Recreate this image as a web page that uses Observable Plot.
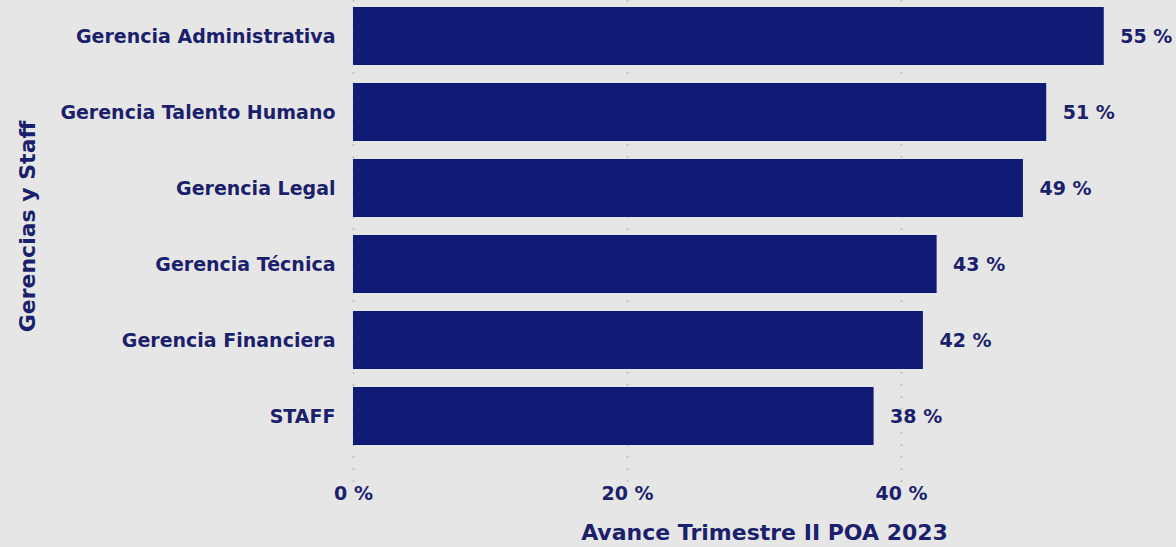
<!DOCTYPE html>
<html>
<head>
<meta charset="utf-8">
<script src="https://cdn.jsdelivr.net/npm/d3@7"></script>
<script src="https://cdn.jsdelivr.net/npm/@observablehq/plot@0.6"></script>
<style>
  html, body { margin: 0; padding: 0; background: #e6e6e6; }
  #chart svg { display: block; }
</style>
</head>
<body>
<div id="chart"></div>
<script>
const categories = ["Gerencia Administrativa", "Gerencia Talento Humano", "Gerencia Legal", "Gerencia Técnica", "Gerencia Financiera", "STAFF"];
const values = [54.8, 50.6, 48.9, 42.6, 41.6, 38.0];
const xTicks = [0, 20, 40];
const xTitle = "Avance Trimestre II POA 2023";
const yTitle = "Gerencias y Staff";

const data = categories.map((c, i) => ({ cat: c, val: values[i] }));
const navy = "#111a74";
const textColor = "#1c1f6b";
const font = "'DejaVu Sans', sans-serif";

const chart = Plot.plot({
  width: 1176,
  height: 547,
  marginLeft: 353,
  marginRight: 1,
  marginTop: 7,
  marginBottom: 102,
  style: { background: "#e6e6e6", fontFamily: font, fontWeight: "bold", fontSize: "19px", color: textColor },
  x: { domain: [0, 60] },
  y: { domain: categories, paddingInner: 0.24, paddingOuter: 0 },
  marks: [
    Plot.ruleX(xTicks, { stroke: "#c4c4c4", strokeWidth: 2, strokeDasharray: "2,10", insetTop: -7, insetBottom: -38 }),
    Plot.barX(data, { x: "val", y: "cat", fill: navy }),
    Plot.text(data, { x: "val", y: "cat", text: d => Math.round(d.val) + " %", textAnchor: "start", dx: 16, fill: textColor, fontSize: 19 }),
    Plot.axisY({ tickSize: 0, tickPadding: 18, label: null, fill: textColor, fontSize: 19 }),
    Plot.axisX({ ticks: xTicks, tickSize: 0, tickPadding: 41, tickFormat: d => d + " %", label: null, fill: textColor, fontSize: 19 }),
    Plot.text([xTitle], { frameAnchor: "bottom", dy: 87, textAnchor: "middle", lineAnchor: "middle", fill: textColor, fontSize: 22 }),
    Plot.text([yTitle], { frameAnchor: "left", rotate: -90, dx: -326, textAnchor: "middle", lineAnchor: "middle", fill: textColor, fontSize: 22 })
  ]
});
document.getElementById("chart").appendChild(chart);
</script>
</body>
</html>
